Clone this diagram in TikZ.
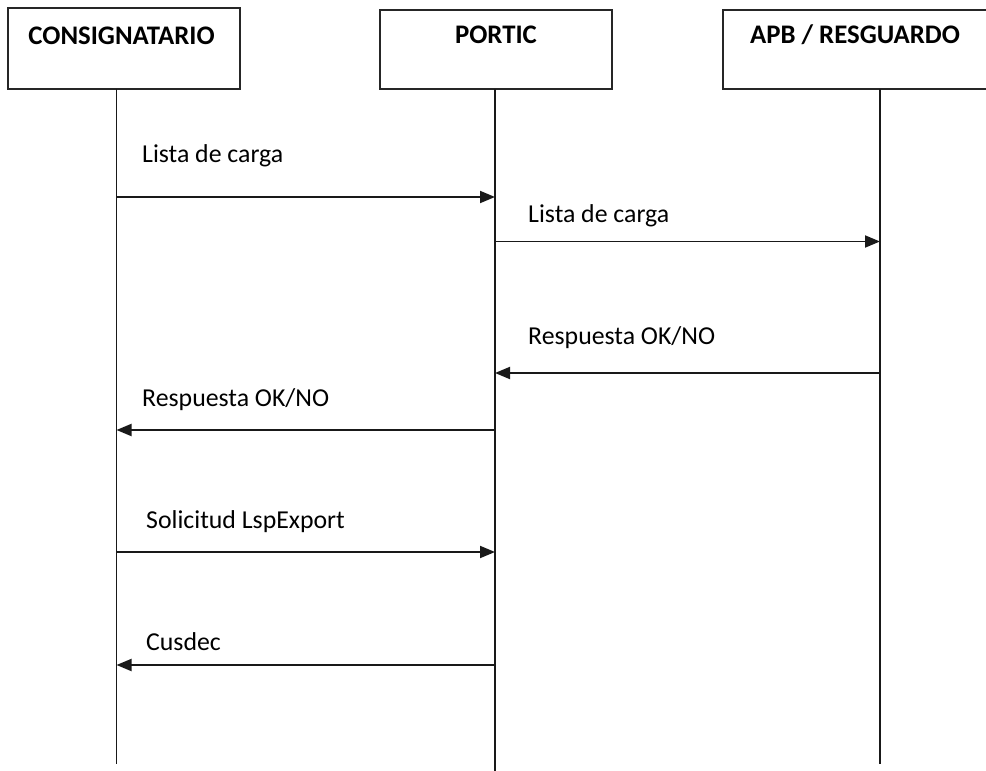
\documentclass[tikz,border=0pt]{standalone}
\usepackage{fontspec}
\setmainfont{Carlito}
\usetikzlibrary{arrows.meta}
\begin{document}
\begin{tikzpicture}[x=1pt,y=-1pt,
  actorbox/.style={draw=black!85,line width=2pt},
  lifeline/.style={draw=black!90,line width=1.9pt},
  msg/.style={draw=black!90,line width=1.9pt,-{Triangle[length=15pt,width=12pt]}},
  lbl/.style={anchor=base west,inner sep=0pt,font=\fontsize{25.8}{30}\selectfont},
  hdr/.style={anchor=base,inner sep=0pt,font=\fontsize{26.8}{30}\selectfont\bfseries}]
\useasboundingbox (0,0) rectangle (986,771);
\fill[white] (0,0) rectangle (986,771);
% actor boxes
\draw[actorbox] (8,7.5) rectangle (240,89);
\node[inner sep=0pt,minimum width=232pt,minimum height=81.5pt,anchor=north west] (b1) at (8,7.5) {};
\draw[actorbox] (380,10) rectangle (612,89);
\node[inner sep=0pt,minimum width=232pt,minimum height=79pt,anchor=north west] (b2) at (380,10) {};
\draw[actorbox] (723,10) rectangle (992,89);
\node[inner sep=0pt,minimum width=269pt,minimum height=79pt,anchor=north west] (b3) at (723,10) {};
\node[hdr] (h1) at (121.5,44) {CONSIGNATARIO};
\node[hdr] (h2) at (496,43) {PORTIC};
\node[hdr] (h3) at (855,43) {APB / RESGUARDO};
% lifelines
\coordinate (l1t) at (116.5,89);
\coordinate (l1b) at (116.5,764);
\coordinate (l2t) at (495,89);
\coordinate (l2b) at (495,771);
\coordinate (l3t) at (880,89);
\coordinate (l3b) at (880,764);
\draw[lifeline] (l1t) -- (l1b);
\draw[lifeline] (l2t) -- (l2b);
\draw[lifeline] (l3t) -- (l3b);
% message anchor points
\coordinate (a1) at (116.5,197); \coordinate (a2) at (495,197);
\coordinate (b2s) at (495,241.5); \coordinate (b3e) at (880,241.5);
\coordinate (c3) at (880,373); \coordinate (c2) at (495,373);
\coordinate (d2) at (495,430); \coordinate (d1) at (116.5,430);
\coordinate (e1) at (116.5,552); \coordinate (e2) at (495,552);
\coordinate (f2) at (495,665); \coordinate (f1) at (116.5,665);
\draw[msg] (a1) -- (a2);
\draw[msg] (b2s) -- (b3e);
\draw[msg] (c3) -- (c2);
\draw[msg] (d2) -- (d1);
\draw[msg] (e1) -- (e2);
\draw[msg] (f2) -- (f1);
% labels
\node[lbl] (m1) at (142,162) {Lista de carga};
\node[lbl] (m2) at (528,222) {Lista de carga};
\node[lbl] (m3) at (528,344) {Respuesta OK/NO};
\node[lbl] (m4) at (142,406) {Respuesta OK/NO};
\node[lbl] (m5) at (146,528) {Solicitud LspExport};
\node[lbl] (m6) at (146,650) {Cusdec};
\end{tikzpicture}
\end{document}
